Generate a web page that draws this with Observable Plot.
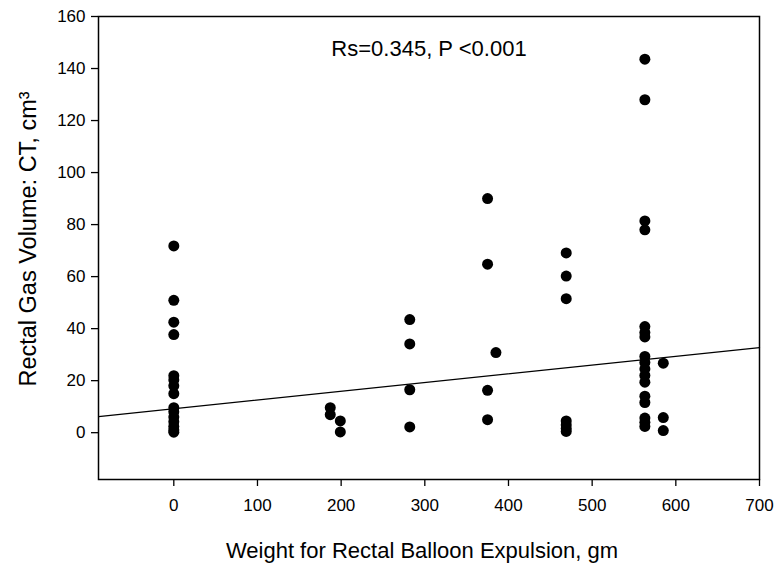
<!DOCTYPE html>
<html>
<head>
<meta charset="utf-8">
<script src="https://cdn.jsdelivr.net/npm/d3@7"></script>
<script src="https://cdn.jsdelivr.net/npm/@observablehq/plot@0.6"></script>
<style>
  html, body { margin: 0; padding: 0; background: #fff; }
  svg { font-family: "Liberation Sans", Arial, Helvetica, sans-serif; }
</style>
</head>
<body>
<div id="chart"></div>
<script>
// Weight for rectal balloon expulsion (gm) and rectal gas volume (cm3)
const weight = [
  0, 0, 0, 0, 0, 0, 0, 0, 0, 0, 0, 0, 0, 0, 0,
  187, 187, 199, 199,
  282, 282, 282, 282,
  375, 375, 375, 375, 385,
  469, 469, 469, 469, 469, 469, 469,
  563, 563, 563, 563, 563, 563, 563, 563, 563, 563, 563, 563, 563, 563, 563, 563, 563,
  585, 585, 585
];
const gasVolume = [
  71.8, 50.9, 42.5, 37.7, 21.9, 20.3, 18.0, 15.0, 9.6, 8.0, 6.0, 4.2, 2.4, 1.0, 0.2,
  9.6, 6.9, 4.5, 0.3,
  43.5, 34.1, 16.5, 2.2,
  90.0, 64.8, 16.3, 5.0, 30.8,
  69.1, 60.2, 51.5, 4.5, 3.0, 1.6, 0.5,
  143.6, 128.0, 81.4, 78.0, 40.8, 38.5, 36.8, 29.3, 27.0, 24.5, 22.0, 19.4, 14.0, 11.6, 5.6, 4.0, 2.4, 0.8,
  26.7, 5.8, 0.3
];
// Fitted regression line end points
const fitX = [-90, 700];
const fitY = [6.2, 32.7];

const xTicks = [0, 100, 200, 300, 400, 500, 600, 700];
const yTicks = [0, 20, 40, 60, 80, 100, 120, 140, 160];
const annotation = "Rs=0.345, P <0.001";
const xLabel = "Weight for Rectal Balloon Expulsion, gm";
const yLabel = "Rectal Gas Volume: CT, cm\u00B3";

const points = weight.map((w, i) => ({x: w, y: gasVolume[i]}));
const fit = fitX.map((x, i) => ({x, y: fitY[i]}));

const chart = Plot.plot({
  width: 779,
  height: 570,
  marginLeft: 98,
  marginRight: 20,
  marginTop: 16,
  marginBottom: 91,
  style: {fontFamily: '"Liberation Sans", Arial, Helvetica, sans-serif', fontSize: "17px", color: "#000", background: "#fff"},
  x: {domain: [-90, 700], label: null},
  y: {domain: [-18, 160], label: null},
  marks: [
    Plot.frame({stroke: "#000", strokeWidth: 1.5}),
    Plot.axisX({ticks: xTicks, tickSize: 7, tickPadding: 12, fontSize: 17, label: null, strokeWidth: 1.3}),
    Plot.axisY({ticks: yTicks, tickSize: 7, tickPadding: 6, fontSize: 17, label: null, strokeWidth: 1.3}),
    Plot.line(fit, {x: "x", y: "y", stroke: "#000", strokeWidth: 1.2}),
    Plot.dot(points, {x: "x", y: "y", r: 5.5, fill: "#000", stroke: "none"}),
    Plot.text([annotation], {frameAnchor: "top", lineAnchor: "middle", dy: 32, text: d => d, fontSize: 22, fill: "#000"}),
    Plot.text([xLabel], {frameAnchor: "bottom", lineAnchor: "middle", dx: -7, dy: 71, text: d => d, fontSize: 22, fill: "#000"}),
    Plot.text([yLabel], {frameAnchor: "left", textAnchor: "middle", lineAnchor: "middle", dx: -70, dy: -9, rotate: -90, text: d => d, fontSize: 23.5, fill: "#000"})
  ]
});
document.getElementById("chart").appendChild(chart);
</script>
</body>
</html>
